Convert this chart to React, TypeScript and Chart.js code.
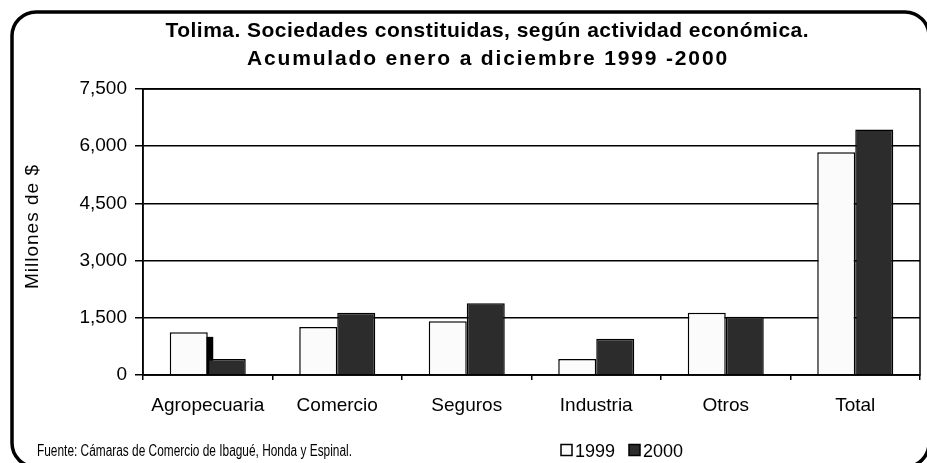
import React, { useEffect, useRef } from "react";
import { Chart, registerables } from "chart.js";

Chart.register(...registerables);

const categories = ["Agropecuaria", "Comercio", "Seguros", "Industria", "Otros", "Total"];
const values1999 = [1120, 1260, 1410, 420, 1630, 5840];
const values2000 = [420, 1630, 1880, 950, 1530, 6440];
// small dark sliver visible next to the Agropecuaria bars in the source image
const sliverValues = [1000, null, null, null, null, null];
const yMin = 0;
const yMax = 7500;
const yStep = 1500;
const seriesLabels = ["1999", "2000"];
const titleLines = [
  "Tolima. Sociedades constituidas, según actividad económica.",
  "Acumulado enero a diciembre 1999 -2000",
];
const yAxisTitle = "Millones de $";
const sourceNote = "Fuente: Cámaras de Comercio de Ibagué, Honda y Espinal.";

const FONT = "'Liberation Sans', Arial, Helvetica, sans-serif";
const LIGHT = "#fbfbfb";
const DARK = "#2c2c2c";

function spacedText(
  ctx: CanvasRenderingContext2D,
  text: string,
  x: number,
  y: number,
  width: number,
  align: "left" | "center"
) {
  const anyCtx = ctx as any;
  anyCtx.letterSpacing = "0px";
  const w = ctx.measureText(text).width;
  const ls = (width - w) / Math.max(1, text.length - 1);
  anyCtx.letterSpacing = ls.toFixed(2) + "px";
  ctx.textAlign = "left";
  const sx = align === "center" ? x - width / 2 : x;
  ctx.fillText(text, sx, y);
  anyCtx.letterSpacing = "0px";
}

function squeezedText(
  ctx: CanvasRenderingContext2D,
  text: string,
  x: number,
  y: number,
  width: number
) {
  const w = ctx.measureText(text).width;
  ctx.save();
  ctx.translate(x, y);
  ctx.scale(width / w, 1);
  ctx.textAlign = "left";
  ctx.fillText(text, 0, 0);
  ctx.restore();
}

const decorPlugin = {
  id: "decor",
  beforeDraw(chart: any) {
    const ctx = chart.ctx as CanvasRenderingContext2D;
    ctx.save();
    ctx.fillStyle = "#ffffff";
    ctx.fillRect(0, 0, chart.width, chart.height);
    ctx.restore();
  },
  afterDraw(chart: any) {
    const ctx = chart.ctx as CanvasRenderingContext2D;
    const a = chart.chartArea;
    ctx.save();
    // plot frame
    ctx.strokeStyle = "#000";
    ctx.lineWidth = 1.5;
    ctx.strokeRect(a.left, a.top, a.right - a.left, a.bottom - a.top);

    // outer rounded border
    ctx.lineWidth = 3.5;
    ctx.beginPath();
    (ctx as any).roundRect(12, 12, 917, 455, 24);
    ctx.stroke();

    ctx.fillStyle = "#000";
    ctx.textBaseline = "alphabetic";
    // title
    ctx.font = `bold 21px ${FONT}`;
    spacedText(ctx, titleLines[0], 487, 37, 643, "center");
    spacedText(ctx, titleLines[1], 487, 65, 480, "center");

    // y-axis title
    ctx.save();
    ctx.translate(38, 227);
    ctx.rotate(-Math.PI / 2);
    ctx.font = `19px ${FONT}`;
    spacedText(ctx, yAxisTitle, 0, 0, 124, "center");
    ctx.restore();

    // source note
    ctx.font = `16px ${FONT}`;
    ctx.textBaseline = "alphabetic";
    squeezedText(ctx, sourceNote, 37, 456, 315);

    // legend
    ctx.font = `18px ${FONT}`;
    ctx.textAlign = "left";
    const items = [
      { x: 561, fill: LIGHT, label: seriesLabels[0] },
      { x: 629, fill: DARK, label: seriesLabels[1] },
    ];
    items.forEach((it) => {
      ctx.fillStyle = it.fill;
      ctx.fillRect(it.x, 444.5, 11, 11);
      ctx.strokeStyle = "#000";
      ctx.lineWidth = 1.5;
      ctx.strokeRect(it.x, 444.5, 11, 11);
      ctx.fillStyle = "#000";
      ctx.fillText(it.label, it.x + 14, 457);
    });
    ctx.restore();
  },
};

export default function App() {
  const ref = useRef<HTMLCanvasElement | null>(null);

  useEffect(() => {
    const canvas = ref.current;
    if (!canvas) return;
    Chart.defaults.font.family = FONT;
    Chart.defaults.color = "#000";
    const chart = new Chart(canvas, {
      type: "bar",
      data: {
        labels: categories,
        datasets: [
          {
            label: seriesLabels[0],
            data: values1999,
            backgroundColor: LIGHT,
            borderColor: "#000",
            borderWidth: 1.5,
            categoryPercentage: 0.587,
            barPercentage: 1,
          },
          {
            label: seriesLabels[1],
            data: values2000,
            backgroundColor: DARK,
            borderColor: "#000",
            borderWidth: 1.5,
            categoryPercentage: 0.587,
            barPercentage: 1,
          },
          {
            label: "",
            data: sliverValues as any,
            backgroundColor: "#000",
            borderWidth: 0,
            grouped: false,
            maxBarThickness: 11,
            categoryPercentage: 0.587,
            barPercentage: 1,
          } as any,
        ],
      },
      options: {
        responsive: false,
        animation: false,
        devicePixelRatio: 1,
        layout: { padding: { top: 89, right: 7, left: 0, bottom: 0 } },
        plugins: {
          legend: { display: false },
          title: { display: false },
          tooltip: { enabled: false },
        },
        scales: {
          x: {
            offset: true,
            grid: {
              display: true,
              drawOnChartArea: false,
              offset: true,
              tickLength: 5,
              color: "#000",
              lineWidth: 1.5,
            },
            border: { color: "#000", width: 1.5 },
            ticks: {
              color: "#000",
              font: { size: 19, family: FONT },
              padding: 14,
              maxRotation: 0,
            },
            afterFit: (s: any) => {
              s.height = 88;
            },
          },
          y: {
            min: yMin,
            max: yMax,
            grid: {
              color: "#000",
              lineWidth: 1.5,
              tickLength: 8,
            },
            border: { color: "#000", width: 1.5 },
            ticks: {
              stepSize: yStep,
              color: "#000",
              font: { size: 19, family: FONT },
              padding: 8,
              callback: (v: any) => Number(v).toLocaleString("en-US"),
            },
            afterFit: (s: any) => {
              s.width = 143;
            },
          },
        },
      },
      plugins: [decorPlugin],
    });
    return () => chart.destroy();
  }, []);

  return (
    <div style={{ position: "absolute", left: 0, top: 0, width: 927, height: 463, background: "#fff" }}>
      <canvas ref={ref} width={927} height={463} style={{ display: "block" }} />
    </div>
  );
}
